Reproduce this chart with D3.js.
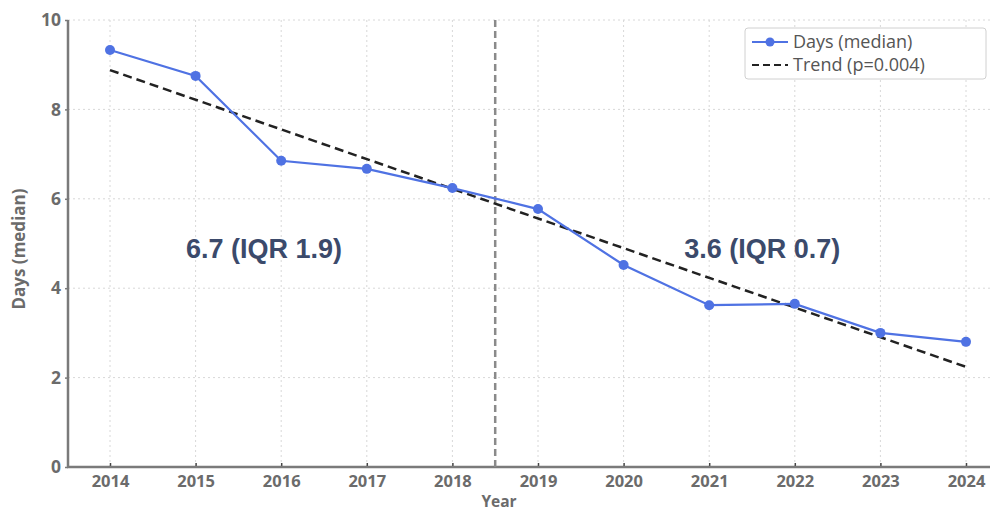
<!DOCTYPE html>
<html><head><meta charset="utf-8">
<script src="https://cdn.jsdelivr.net/npm/d3@7"></script>
<style>body{margin:0;background:#fff}svg{display:block;font-family:"Open Sans",sans-serif}</style>
</head><body>
<script>
const years = [2014,2015,2016,2017,2018,2019,2020,2021,2022,2023,2024];
const days = [9.33,8.75,6.85,6.67,6.24,5.77,4.52,3.62,3.65,3.0,2.8];
const trendYears = [2014,2024];
const trendValues = [8.88,2.24];
const yTicks = [0,2,4,6,8,10];
const splitYear = 2018.5;
const annotations = [{x:2015.8,y:4.68,text:"6.7 (IQR 1.9)"},{x:2021.62,y:4.68,text:"3.6 (IQR 0.7)"}];
const legendLabels = ["Days (median)","Trend (p=0.004)"];

const W=993,H=511;
const svg=d3.select("body").append("svg").attr("width",W).attr("height",H);
const x=d3.scaleLinear().domain([2014,2024]).range([110,966]);
const y=d3.scaleLinear().domain([0,10]).range([467,20]);
const axisColor="#7a7a7a", textColor="#6b6b6b";
const FONT="Open Sans, sans-serif";

// grid
svg.append("g").selectAll("line").data(years).join("line")
 .attr("x1",d=>x(d)).attr("x2",d=>x(d)).attr("y1",y(10)).attr("y2",y(0))
 .attr("stroke","#d8d8d8").attr("stroke-dasharray","2,3").attr("stroke-width",1);
svg.append("g").selectAll("line").data(yTicks).join("line")
 .attr("x1",68).attr("x2",990).attr("y1",d=>y(d)).attr("y2",d=>y(d))
 .attr("stroke","#d8d8d8").attr("stroke-dasharray","2,3").attr("stroke-width",1);

// axes
const xa=svg.append("g").attr("transform",`translate(0,${y(0)})`)
 .call(d3.axisBottom(x).tickValues(years).tickFormat(d3.format("d")).tickSize(-4).tickPadding(8));
xa.attr("font-family",FONT);
xa.select(".domain").remove();
xa.selectAll(".tick line").attr("stroke","#444").attr("stroke-width",1.5);
xa.selectAll("text").attr("fill",textColor).attr("font-size",16.5).attr("font-weight","bold");
svg.append("line").attr("x1",67).attr("x2",990).attr("y1",y(0)).attr("y2",y(0)).attr("stroke",axisColor).attr("stroke-width",2.5);

const ya=svg.append("g").attr("transform","translate(68,0)")
 .call(d3.axisLeft(y).tickValues(yTicks).tickSize(3).tickPadding(4));
ya.attr("font-family",FONT);
ya.select(".domain").remove();
ya.selectAll(".tick line").attr("stroke",axisColor).attr("stroke-width",1.5);
ya.selectAll("text").attr("fill",textColor).attr("font-size",17.5).attr("font-weight","bold");
svg.append("line").attr("x1",68).attr("x2",68).attr("y1",y(10)).attr("y2",y(0)+1).attr("stroke",axisColor).attr("stroke-width",2.5);

// axis labels
svg.append("text").attr("x",499).attr("y",507).attr("text-anchor","middle")
 .attr("fill",textColor).attr("font-size",15.5).attr("font-weight","bold").text("Year");
svg.append("text").attr("transform","translate(25,249) rotate(-90)").attr("text-anchor","middle")
 .attr("fill",textColor).attr("font-size",17).attr("font-weight","bold").text("Days (median)");

// split line
svg.append("line").attr("x1",x(splitYear)).attr("x2",x(splitYear)).attr("y1",y(10)).attr("y2",y(0))
 .attr("stroke","#8a8a8a").attr("stroke-width",2.5).attr("stroke-dasharray","7,4");

// trend
svg.append("path").datum(trendYears.map((t,i)=>[t,trendValues[i]]))
 .attr("d",d3.line().x(d=>x(d[0])).y(d=>y(d[1])))
 .attr("fill","none").attr("stroke","#222").attr("stroke-width",2.5).attr("stroke-dasharray","9,5");

// data line
const blue="#4f72e3";
const pts=years.map((t,i)=>[t,days[i]]);
svg.append("path").datum(pts).attr("d",d3.line().x(d=>x(d[0])).y(d=>y(d[1])))
 .attr("fill","none").attr("stroke",blue).attr("stroke-width",2.2);
svg.append("g").selectAll("circle").data(pts).join("circle")
 .attr("cx",d=>x(d[0])).attr("cy",d=>y(d[1])).attr("r",5).attr("fill",blue);

// annotations
svg.append("g").selectAll("text").data(annotations).join("text")
 .attr("x",d=>x(d.x)).attr("y",d=>y(d.y)).attr("text-anchor","middle")
 .attr("fill","#3b4a6b").attr("font-size",27).attr("font-weight","bold")
 .attr("font-family","Liberation Sans, Arial, sans-serif").text(d=>d.text);

// legend
const lg=svg.append("g").attr("transform","translate(745,28)");
lg.append("rect").attr("width",241).attr("height",51).attr("rx",3).attr("fill","#fff").attr("stroke","#d0d0d0");
lg.append("line").attr("x1",7).attr("x2",43).attr("y1",14).attr("y2",14).attr("stroke",blue).attr("stroke-width",2.2);
lg.append("circle").attr("cx",25).attr("cy",14).attr("r",4.5).attr("fill",blue);
lg.append("line").attr("x1",7).attr("x2",43).attr("y1",37).attr("y2",37).attr("stroke","#222").attr("stroke-width",2.2).attr("stroke-dasharray","7,4");
lg.selectAll("text.l").data(legendLabels).join("text").attr("class","l")
 .attr("x",48).attr("y",(d,i)=>14+i*23).attr("dy","0.35em")
 .attr("fill","#555").attr("font-size",18).text(d=>d);
</script>
</body></html>
